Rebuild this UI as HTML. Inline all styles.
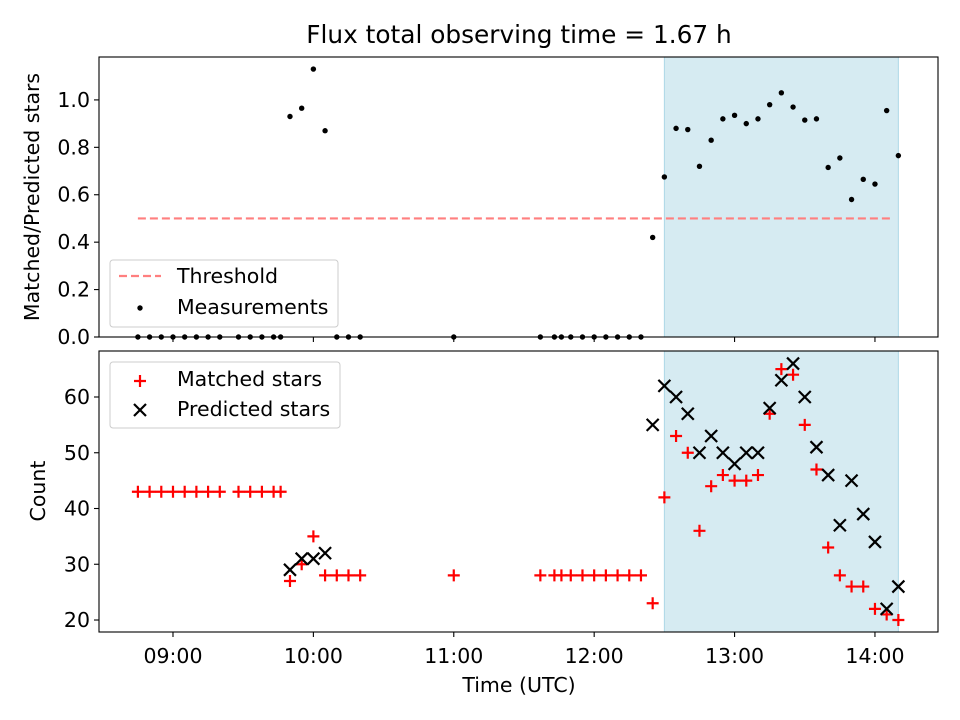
<!DOCTYPE html>
<html><head><meta charset="utf-8"><style>
html,body{margin:0;padding:0;background:#fff;}
svg{display:block;font-family:"DejaVu Sans","Liberation Sans",sans-serif;}
</style></head><body>
<svg id="chart" width="960" height="720" viewBox="0 0 960 720" xmlns="http://www.w3.org/2000/svg"></svg>
<script>
const times = ["08:45","08:50","08:55","09:00","09:05","09:10","09:15","09:20","09:28","09:33","09:38","09:43","09:46",
"09:50","09:55","10:00","10:05","10:10","10:15","10:20","11:00",
"11:37","11:43","11:46","11:50","11:55","12:00","12:05","12:10","12:15","12:20",
"12:25","12:30","12:35","12:40","12:45","12:50","12:55","13:00","13:05","13:10","13:15","13:20","13:25","13:30","13:35","13:40","13:45","13:50","13:55","14:00","14:05","14:10"];
const ratio = [0,0,0,0,0,0,0,0,0,0,0,0,0,
0.93,0.965,1.13,0.87,0,0,0,0,
0,0,0,0,0,0,0,0,0,0,
0.42,0.675,0.88,0.875,0.72,0.83,0.92,0.935,0.90,0.92,0.98,1.03,0.97,0.915,0.92,0.715,0.755,0.58,0.665,0.645,0.955,0.765];
const matched = [43,43,43,43,43,43,43,43,43,43,43,43,43,
27,30,35,28,28,28,28,28,
28,28,28,28,28,28,28,28,28,28,
23,42,53,50,36,44,46,45,45,46,57,65,64,55,47,33,28,26,26,22,21,20];
const predicted = [null,null,null,null,null,null,null,null,null,null,null,null,null,
29,31,31,32,null,null,null,null,
null,null,null,null,null,null,null,null,null,null,
55,62,60,57,50,53,50,48,50,50,58,63,66,60,51,46,37,45,39,34,22,26];
const xTickLabels = ["09:00","10:00","11:00","12:00","13:00","14:00"];
const topYTicks = [0.0,0.2,0.4,0.6,0.8,1.0];
const botYTicks = [20,30,40,50,60];
const threshold = 0.5;
const thresholdSpan = ["08:45","14:08"];
const shadeSpan = ["12:30","14:10"];

const NS="http://www.w3.org/2000/svg";
const svg=document.getElementById('chart');
const FS='20.5';
function h(s){const p=s.split(':');return +p[0]+ +p[1]/60;}
const L=99,R=938,T1=57,B1=337,T2=351,B2=632;
const xmin=8.473,xmax=14.449;
const X=t=>L+(t-xmin)/(xmax-xmin)*(R-L);
const Y1=v=>B1-(v-0)/(1.181-0)*(B1-T1);
const Y2=v=>B2-(v-17.85)/(68.25-17.85)*(B2-T2);
function el(tag,attrs,parent){const e=document.createElementNS(NS,tag);for(const k in attrs)e.setAttribute(k,attrs[k]);(parent||svg).appendChild(e);return e;}
function txt(x,y,s,attrs){const e=el('text',Object.assign({x:x,y:y,fill:'#000','font-size':FS},attrs||{}));e.textContent=s;return e;}

const title=txt(519,43,'Flux total observing time = 1.67 h',{'text-anchor':'middle','font-size':'24.8'});



function axes(T,B,name){
  const g=el('g',{});
  
  
  const sh=el('rect',{x:X(h(shadeSpan[0])),y:T,width:X(h(shadeSpan[1]))-X(h(shadeSpan[0])),height:B-T,fill:'#add8e6','fill-opacity':0.5,stroke:'#add8e6','stroke-width':1},g);
  
  
  return g;
}
function frame(T,B,g,labels){
  el('rect',{x:L,y:T,width:R-L,height:B-T,fill:'none',stroke:'#000','stroke-width':1.1},g);
  xTickLabels.forEach(s=>{const x=X(h(s));
    el('line',{x1:x,y1:B,x2:x,y2:B+5,stroke:'#000','stroke-width':1.1},g);
    if(labels){const t=txt(x,B+31,s,{'text-anchor':'middle'});}
  });
}

const g1=axes(T1,B1,'ratio-axes');
const th=el('line',{x1:X(h(thresholdSpan[0])),y1:Y1(threshold),x2:X(h(thresholdSpan[1])),y2:Y1(threshold),stroke:'#ff7f7f','stroke-width':2.2,'stroke-dasharray':'8 4'},g1);


times.forEach((s,i)=>{const c=el('circle',{cx:X(h(s)),cy:Y1(ratio[i]),r:2.7,fill:'#000'},g1);
  
  });
topYTicks.forEach(v=>{const y=Y1(v);el('line',{x1:L-5,y1:y,x2:L,y2:y,stroke:'#000','stroke-width':1.1},g1);
  const t=txt(L-9,y+7,v.toFixed(1),{'text-anchor':'end'});});
frame(T1,B1,g1,false);
const yl1=txt(0,0,'Matched/Predicted stars',{'text-anchor':'middle',transform:'translate(39,197) rotate(-90)'});


const lg1=el('g',{});


el('rect',{x:110,y:260,width:228,height:67,rx:3,fill:'#fff','fill-opacity':0.8,stroke:'#ccc'},lg1);
el('line',{x1:119,y1:276,x2:161,y2:276,stroke:'#ff7f7f','stroke-width':2.2,'stroke-dasharray':'8 4'},lg1);
txt(177,283,'Threshold',{});
el('circle',{cx:140,cy:308,r:2.7,fill:'#000'},lg1);
txt(177,314,'Measurements',{});

const g2=axes(T2,B2,'count-axes');
times.forEach((s,i)=>{const x=X(h(s)),y=Y2(matched[i]);
  const p=el('path',{d:`M${x-6},${y}H${x+6}M${x},${y-6}V${y+6}`,stroke:'#f00','stroke-width':2.2},g2);
  
  
});
times.forEach((s,i)=>{if(predicted[i]==null)return;const x=X(h(s)),y=Y2(predicted[i]);
  const p=el('path',{d:`M${x-6},${y-6}L${x+6},${y+6}M${x-6},${y+6}L${x+6},${y-6}`,stroke:'#000','stroke-width':2.2},g2);
  
  
});
botYTicks.forEach(v=>{const y=Y2(v);el('line',{x1:L-5,y1:y,x2:L,y2:y,stroke:'#000','stroke-width':1.1},g2);
  const t=txt(L-9,y+7,String(v),{'text-anchor':'end'});});
frame(T2,B2,g2,true);
const yl2=txt(0,0,'Count',{'text-anchor':'middle',transform:'translate(45,491) rotate(-90)'});


const xl=txt(519,692,'Time (UTC)',{'text-anchor':'middle'});


const lg2=el('g',{});


el('rect',{x:110,y:362,width:230,height:66,rx:3,fill:'#fff','fill-opacity':0.8,stroke:'#ccc'},lg2);
el('path',{d:'M134,381H146M140,375V387',stroke:'#f00','stroke-width':2.2},lg2);
txt(177,386,'Matched stars',{});
el('path',{d:'M134,404L146,416M134,416L146,404',stroke:'#000','stroke-width':2.2},lg2);
txt(177,416,'Predicted stars',{});
</script>
</body></html>
